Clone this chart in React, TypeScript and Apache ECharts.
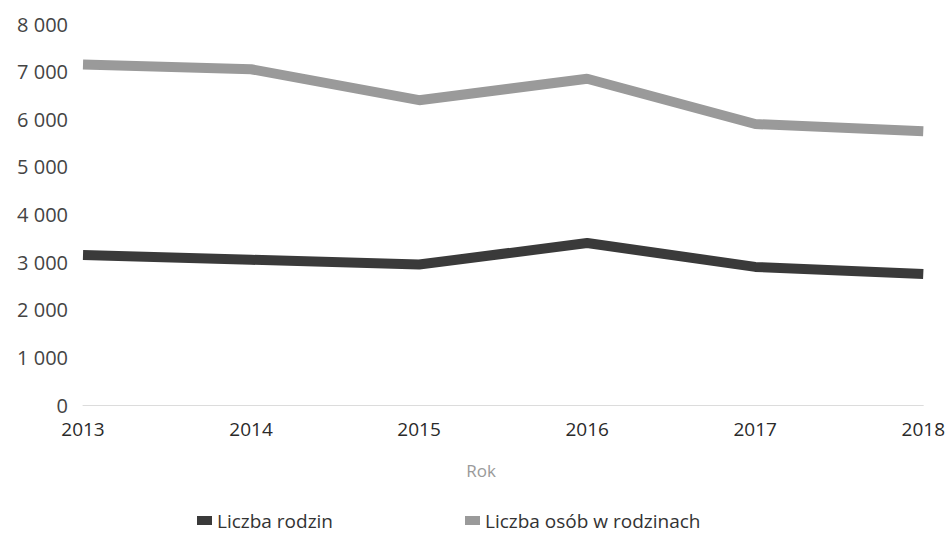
import React, { useEffect, useRef } from "react";
import * as echarts from "echarts";

const years = ["2013", "2014", "2015", "2016", "2017", "2018"];
const families = [3150, 3050, 2950, 3400, 2900, 2750];
const persons = [7150, 7050, 6400, 6850, 5900, 5750];

export default function App() {
  const ref = useRef<HTMLDivElement>(null);
  useEffect(() => {
    const chart = echarts.init(ref.current!, null, { renderer: "svg" });
    const font = "'Open Sans', 'Noto Sans', sans-serif";
    chart.setOption({
      animation: false,
      textStyle: { fontFamily: font },
      grid: { left: 83, right: 20, top: 24, bottom: 135 },
      legend: {
        top: 506,
        left: 192,
        itemGap: 132,
        itemWidth: 15,
        itemHeight: 9,
        icon: "rect",
        textStyle: { fontSize: 19, color: "#333", fontFamily: font },
        data: ["Liczba rodzin", "Liczba osób w rodzinach"],
      },
      xAxis: {
        type: "category",
        data: years,
        boundaryGap: false,
        name: "Rok",
        nameLocation: "middle",
        nameGap: 57,
        nameTextStyle: {
          fontSize: 17,
          color: "#9a9a9a",
          fontFamily: font,
          padding: [0, 44, 0, 0],
        },
        axisLine: { lineStyle: { color: "#dcdcdc", width: 1 } },
        axisTick: { show: false },
        axisLabel: { fontSize: 19, color: "#2a2a2a", margin: 14, fontFamily: font },
      },
      yAxis: {
        type: "value",
        min: 0,
        max: 8000,
        interval: 1000,
        axisLine: { show: false },
        axisTick: { show: false },
        splitLine: { show: false },
        axisLabel: {
          fontSize: 20,
          color: "#444",
          margin: 15,
          fontFamily: font,
          formatter: (v: number) => String(v).replace(/\B(?=(\d{3})+(?!\d))/g, " "),
        },
      },
      series: [
        {
          name: "Liczba rodzin",
          type: "line",
          data: families,
          symbol: "none",
          color: "#3a3a3a",
          lineStyle: { width: 10, color: "#3a3a3a" },
        },
        {
          name: "Liczba osób w rodzinach",
          type: "line",
          data: persons,
          symbol: "none",
          color: "#9a9a9a",
          lineStyle: { width: 10, color: "#9a9a9a" },
        },
      ],
    });
    return () => chart.dispose();
  }, []);
  return (
    <div
      ref={ref}
      style={{ position: "absolute", left: 0, top: 0, width: 948, height: 540 }}
    />
  );
}
